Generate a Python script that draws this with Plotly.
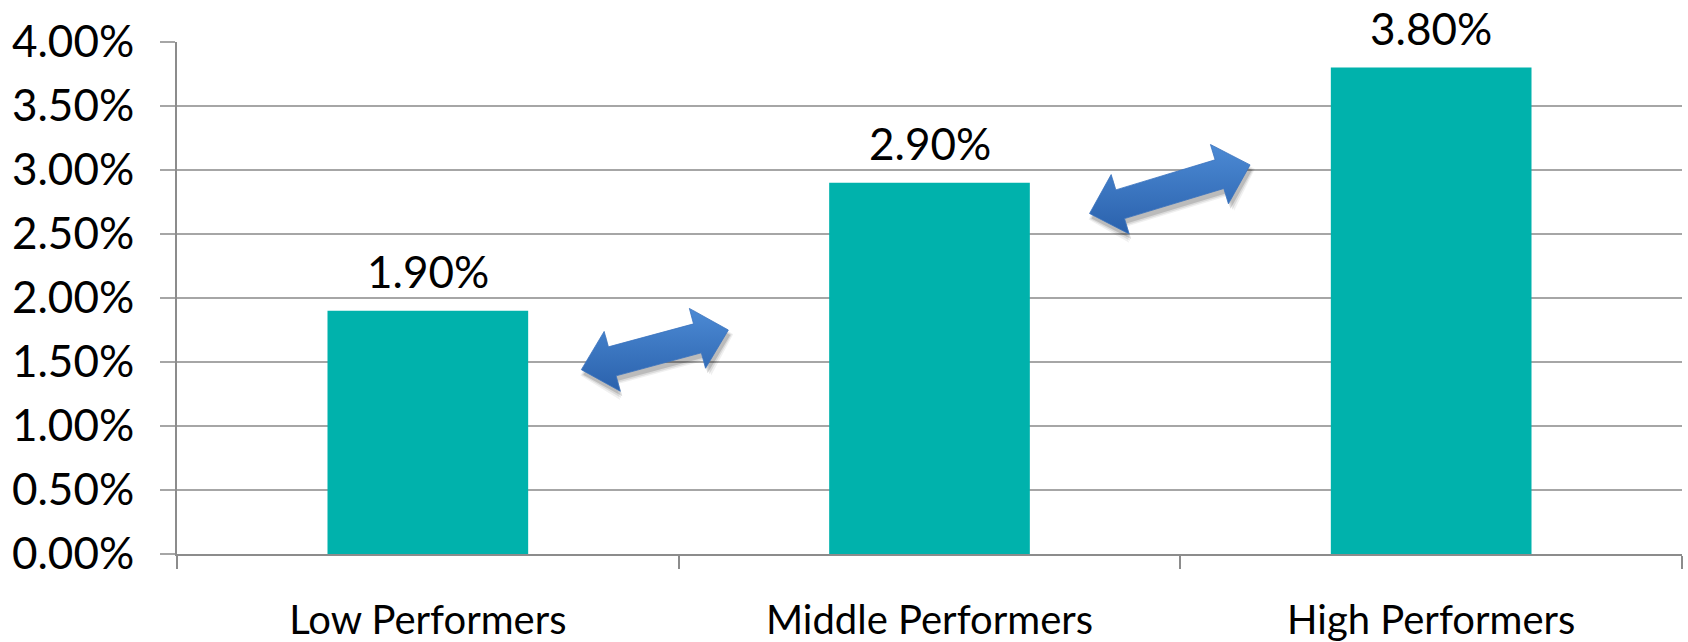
import math
import plotly.graph_objects as go

# Chart data
categories = ["Low Performers", "Middle Performers", "High Performers"]
values = [1.90, 2.90, 3.80]          # percent
y_ticks = [0.0, 0.5, 1.0, 1.5, 2.0, 2.5, 3.0, 3.5, 4.0]

# Figure geometry (pixels)
W, H = 1688, 642
ML, MR, MT, MB = 177, 6, 42, 88
PLOT_W = W - ML - MR
PLOT_H = H - MT - MB
X_RANGE = (-0.5, len(categories) - 0.5)
Y_RANGE = (0.0, 4.0)

FONT = "Lato"
NUM_SIZE = 44
CAT_SIZE = 40
BAR_COLOR = "#00B2AC"
GRID_COLOR = "#A6A6A6"
AXIS_COLOR = "#8C8C8C"

# Double-headed connector arrows between neighbouring bars (data coords of tips)
arrow_tips = [((0.306, 1.44), (0.599, 1.75)),
              ((1.319, 2.66), (1.639, 3.04))]
HEAD_LEN, HEAD_HALF, SHAFT_HALF = 32, 31, 15


def to_px(x, y):
    px = ML + (x - X_RANGE[0]) / (X_RANGE[1] - X_RANGE[0]) * PLOT_W
    py = MT + (Y_RANGE[1] - y) / (Y_RANGE[1] - Y_RANGE[0]) * PLOT_H
    return px, py


def to_data(px, py):
    x = X_RANGE[0] + (px - ML) / PLOT_W * (X_RANGE[1] - X_RANGE[0])
    y = Y_RANGE[1] - (py - MT) / PLOT_H * (Y_RANGE[1] - Y_RANGE[0])
    return x, y


def arrow_polygon(a, b, dx=0.0, dy=0.0, grow=0.0):
    ax, ay = to_px(*a)
    bx, by = to_px(*b)
    ax, ay, bx, by = ax + dx, ay + dy, bx + dx, by + dy
    L = math.hypot(bx - ax, by - ay)
    ux, uy = (bx - ax) / L, (by - ay) / L
    nx, ny = -uy, ux
    hl, hw, sw = HEAD_LEN, HEAD_HALF + grow, SHAFT_HALF + grow
    ax, ay = ax - grow * ux, ay - grow * uy
    bx, by = bx + grow * ux, by + grow * uy
    pts = [
        (ax, ay),
        (ax + hl * ux + hw * nx, ay + hl * uy + hw * ny),
        (ax + hl * ux + sw * nx, ay + hl * uy + sw * ny),
        (bx - hl * ux + sw * nx, by - hl * uy + sw * ny),
        (bx - hl * ux + hw * nx, by - hl * uy + hw * ny),
        (bx, by),
        (bx - hl * ux - hw * nx, by - hl * uy - hw * ny),
        (bx - hl * ux - sw * nx, by - hl * uy - sw * ny),
        (ax + hl * ux - sw * nx, ay + hl * uy - sw * ny),
        (ax + hl * ux - hw * nx, ay + hl * uy - hw * ny),
        (ax, ay),
    ]
    data = [to_data(px, py) for px, py in pts]
    return [p[0] for p in data], [p[1] for p in data]


fig = go.Figure()

fig.add_trace(go.Bar(
    x=categories, y=values,
    marker=dict(color=BAR_COLOR, line=dict(width=0)),
    width=0.4,
    hoverinfo="skip",
))

# Arrows: soft shadow layers, then gradient body
for a, b in arrow_tips:
    for grow, alpha in [(3.0, 0.06), (1.5, 0.09), (0.0, 0.14)]:
        xs, ys = arrow_polygon(a, b, dx=2, dy=5, grow=grow)
        fig.add_trace(go.Scatter(
            x=xs, y=ys, xaxis="x2", mode="lines", fill="toself",
            fillcolor=f"rgba(0,0,0,{alpha})", line=dict(width=0),
            hoverinfo="skip", showlegend=False,
        ))
    xs, ys = arrow_polygon(a, b)
    fig.add_trace(go.Scatter(
        x=xs, y=ys, xaxis="x2", mode="lines", fill="toself",
        fillgradient=dict(type="vertical",
                          colorscale=[[0, "#2A61AC"], [1, "#4C8AD4"]]),
        line=dict(width=0.8, color="#3A72BE"),
        hoverinfo="skip", showlegend=False,
    ))

# Value labels above bars
for c, v in zip(categories, values):
    fig.add_annotation(
        x=c, y=v, text=f"{v:.2f}%", showarrow=False,
        yanchor="bottom", yshift=12,
        font=dict(family=FONT, size=NUM_SIZE, color="#000000"),
    )

fig.update_layout(
    width=W, height=H,
    margin=dict(l=ML, r=MR, t=MT, b=MB, pad=0, autoexpand=False),
    paper_bgcolor="white", plot_bgcolor="white",
    showlegend=False,
    font=dict(family=FONT, size=CAT_SIZE, color="#000000"),
    xaxis=dict(
        type="category", range=list(X_RANGE), automargin=False,
        tickson="boundaries", ticks="outside", ticklen=13, tickwidth=2,
        tickcolor=AXIS_COLOR, showline=True, linecolor=AXIS_COLOR, linewidth=2,
        showgrid=False, ticklabelstandoff=30,
        tickfont=dict(family=FONT, size=CAT_SIZE, color="#000000"),
    ),
    xaxis2=dict(
        overlaying="x", anchor="y", range=list(X_RANGE), visible=False,
    ),
    yaxis=dict(
        range=list(Y_RANGE), tickvals=y_ticks, automargin=False,
        ticktext=[f"{t:.2f}%" for t in y_ticks],
        ticks="outside", ticklen=15, tickwidth=1.5, tickcolor=GRID_COLOR,
        showgrid=True, gridcolor=GRID_COLOR, gridwidth=1.5,
        showline=True, linecolor=AXIS_COLOR, linewidth=2,
        zeroline=False, ticklabelstandoff=17,
        tickfont=dict(family=FONT, size=NUM_SIZE, color="#000000"),
    ),
)

fig.write_html("out.html")
